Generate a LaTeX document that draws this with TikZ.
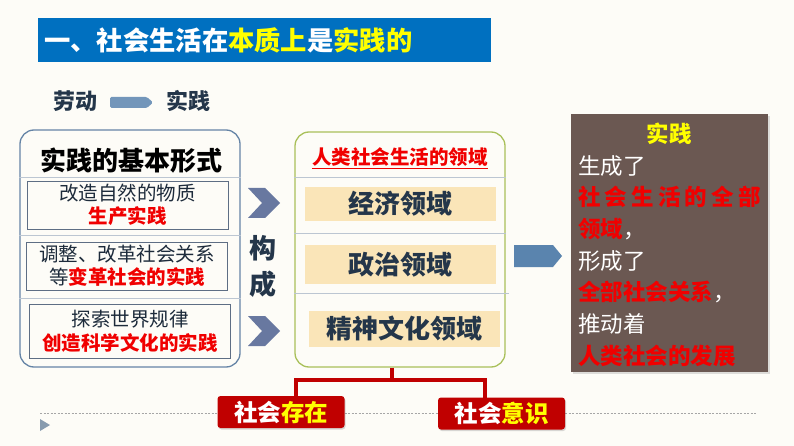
\documentclass[tikz,border=0pt]{standalone}
\usepackage{fontspec}
\setmainfont{Noto Sans CJK SC}
\usetikzlibrary{shadows}
\definecolor{bgc}{HTML}{FDFCF7}
\definecolor{titleblue}{HTML}{0070C0}
\definecolor{ylw}{HTML}{FFFF00}
\definecolor{darktx}{HTML}{24364A}
\definecolor{redtx}{HTML}{F00000}
\definecolor{brownbox}{HTML}{6B5852}
\definecolor{beige}{HTML}{FAE5B8}
\definecolor{leftborder}{HTML}{6584A6}
\definecolor{midborder}{HTML}{A9C05A}
\definecolor{chev}{HTML}{6878A0}
\definecolor{arrowblue}{HTML}{5A84AE}
\definecolor{darkred}{HTML}{C00000}
\definecolor{sepgray}{HTML}{BCC6D2}
\definecolor{innerborder}{HTML}{5E6E84}
\tikzset{
  fs/.style={font=\fontsize{#1}{#1}\selectfont},
  innerbox/.style={draw=innerborder, line width=0.7pt, minimum width=201pt, align=center, inner sep=0pt},
  beigebox/.style={fill=beige, minimum width=191pt, inner sep=0pt, text=darktx, font=\fontsize{26}{26}\selectfont\bfseries},
  sepline/.style={draw=sepgray, line width=0.8pt},
  redbox/.style={fill=darkred, rounded corners=3pt, minimum width=127pt, minimum height=32pt, inner sep=0pt, drop shadow={shadow xshift=1pt, shadow yshift=-1.5pt, opacity=0.3}, font=\fontsize{23.5}{23.5}\selectfont\bfseries, text=white},
  redline/.style={draw=darkred, line width=3.4pt},
}
\begin{document}
\begin{tikzpicture}[x=1pt,y=-1pt]
\fill[bgc] (0,0) rectangle (794,446);
\useasboundingbox (0,0) rectangle (794,446);

% title bar
\node[fill=titleblue, minimum width=453pt, minimum height=44pt, inner sep=0pt] (bar) at (264.5,40) {};
\node[anchor=west, fs=26.3, text=white, inner sep=0pt] (title) at (44,40) {\bfseries 一、社会生活在\textcolor{ylw}{本质上}是\textcolor{ylw}{实践的}};

% labour -> practice
\node[fs=22, text=darktx, inner sep=0pt] (lab) at (75,101) {\bfseries 劳动};
\node[fs=22, text=darktx, inner sep=0pt] (prac) at (188,101) {\bfseries 实践};
\fill[color=arrowblue!85!white, rounded corners=1.5pt] (110,97) -- (147,97) -- (153,102.5) -- (147,108) -- (110,108) -- cycle;

% left box
\node[draw=leftborder, line width=1.3pt, rounded corners=14pt, minimum width=220pt, minimum height=237pt, inner sep=0pt] (left) at (130,248.5) {};
\node[fs=26, text=black, inner sep=0pt] (lefttitle) at (131,161) {\bfseries 实践的基本形式};
\draw[sepline] (left.west |- 0,177) -- (left.east |- 0,177);
\draw[sepline] (left.west |- 0,235) -- (left.east |- 0,235);
\draw[sepline] (left.west |- 0,298) -- (left.east |- 0,298);
\node[innerbox, minimum height=48pt, font=\fontsize{19.5}{23}\selectfont, text=darktx!80!black] (ib1) at (127.5,205) {改造自然的物质\\\textcolor{redtx}{\bfseries 生产实践}};
\node[innerbox, minimum height=48pt, font=\fontsize{19.5}{23}\selectfont, text=darktx!80!black] (ib2) at (127,266) {调整、改革社会关系\\等\textcolor{redtx}{\bfseries 变革社会的实践}};
\node[innerbox, minimum height=54pt, font=\fontsize{19.5}{24}\selectfont, text=darktx!80!black] (ib3) at (130,331) {探索世界规律\\\textcolor{redtx}{\bfseries 创造科学文化的实践}};

% chevrons and 构成
\fill[chev] (248,188) -- (265,188) -- (280,203) -- (265,218) -- (248,218) -- (262,203) -- cycle;
\fill[chev] (248,316) -- (265,316) -- (280,331) -- (265,346) -- (248,346) -- (262,331) -- cycle;
\node[fs=27, text=darktx, inner sep=0pt] (gou) at (263,248) {\bfseries 构};
\node[fs=27, text=darktx, inner sep=0pt] (cheng) at (263,284) {\bfseries 成};

% middle box
\node[draw=midborder, line width=1.3pt, rounded corners=14pt, minimum width=210pt, minimum height=235pt, inner sep=0pt] (mid) at (400,249.5) {};
\node[fs=19.5, text=redtx, inner sep=0pt] (midtitle) at (400,157) {\bfseries 人类社会生活的领域};
\draw[redtx, line width=1pt] (midtitle.south west |- 0,169) -- (midtitle.south east |- 0,169);
\draw[sepline] (mid.west |- 0,177) -- (mid.east |- 0,177);
\draw[sepline] (mid.west |- 0,233) -- (mid.east |- 0,233);
\draw[sepline] (mid.west |- 0,293) -- ([xshift=3pt]mid.east |- 0,293);
\node[beigebox, minimum height=34pt] (econ) at (400.5,204) {经济领域};
\node[beigebox, minimum height=39pt] (pol) at (400.5,264.5) {政治领域};
\node[beigebox, minimum height=36pt] (cult) at (404.5,329) {精神文化领域};

% big arrow
\fill[arrowblue] (514,245) -- (553,245) -- (562,256) -- (553,267) -- (514,267) -- cycle;

% brown box
\node[fill=brownbox, minimum width=197pt, minimum height=258pt, inner sep=0pt, drop shadow={shadow xshift=1.5pt, shadow yshift=-2pt, opacity=0.25}] (brown) at (669.5,243) {};
\node[fs=22.5, text=ylw, inner sep=0pt] (bt) at (669,134) {\bfseries 实践};
\node[anchor=north west, inner sep=0pt, align=left, font=\fontsize{22.5}{31.7}\selectfont, text=white] (btext) at (578,155) {%
生成了\\
\textcolor{redtx}{\bfseries 社\hspace{4.2pt}会\hspace{4.2pt}生\hspace{4.2pt}活\hspace{4.2pt}的\hspace{4.2pt}全\hspace{4.2pt}部}\\
\textcolor{redtx}{\bfseries 领域}，\\
形成了\\
\textcolor{redtx}{\bfseries 全部社会关系}，\\
推动着\\
\textcolor{redtx}{\bfseries 人类社会的发展}};

% bottom boxes
\draw[gray!70, dash pattern=on 2pt off 1.5pt, line width=0.6pt] (40,413) -- (756,413);
\fill[color=arrowblue!60!gray!80!white] (40,419) -- (50,425) -- (40,431) -- cycle;
\node[redbox] (cun) at (281,412) {社会\textcolor{ylw}{存在}};
\node[redbox] (yi) at (501.5,413.5) {社会\textcolor{ylw}{意识}};
\coordinate (jn) at (392,380);
\draw[redline] (mid.south -| jn) -- (jn);
\draw[redline, line cap=rect] ([xshift=15pt]cun.north) |- (jn) -| ([xshift=-16.5pt]yi.north);
\end{tikzpicture}
\end{document}
